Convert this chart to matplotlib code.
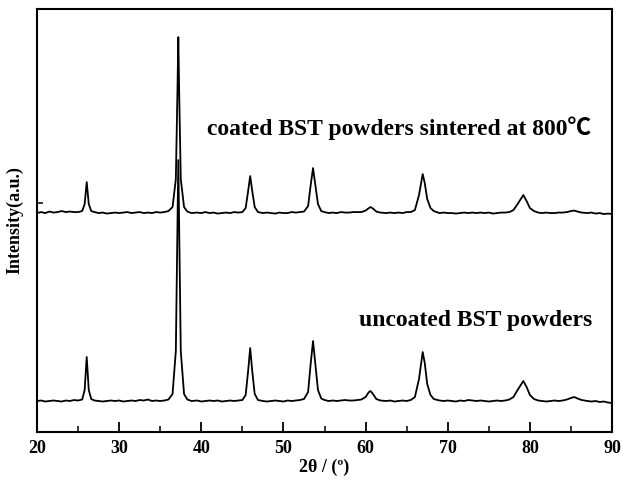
import matplotlib
matplotlib.use("Agg")
import matplotlib.pyplot as plt
from matplotlib.ticker import MultipleLocator

plt.rcParams['font.family'] = ['Liberation Serif', 'DejaVu Serif']
plt.rcParams['font.weight'] = 'bold'

# 2theta (deg) and intensity above baseline (a.u.)
coated_x = [20.0, 20.5, 21.0, 21.5, 22.0, 22.5, 23.0, 23.5, 24.0, 24.5, 25.0, 25.5, 25.8, 26.05, 26.3, 26.6,
            27.0, 27.5, 28.0, 28.5, 29.0, 29.5, 30.0, 30.5, 31.0, 31.5, 32.0, 32.5, 33.0, 33.5, 34.0, 34.5,
            35.0, 35.5, 36.0, 36.5, 36.9, 37.1, 37.2, 37.3, 37.5, 37.9, 38.3, 38.8, 39.5, 40.0, 40.5, 41.0,
            41.5, 42.0, 42.5, 43.0, 43.5, 44.0, 44.5, 45.0, 45.4, 45.7, 45.95, 46.2, 46.5, 46.9, 47.5, 48.0,
            48.5, 49.0, 49.5, 50.0, 50.5, 51.0, 51.5, 52.0, 52.5, 53.0, 53.3, 53.6, 53.9, 54.2, 54.6, 55.0,
            55.5, 56.0, 56.5, 57.0, 57.5, 58.0, 58.5, 59.0, 59.5, 60.0, 60.4, 60.6, 60.9, 61.3, 61.8, 62.5,
            63.0, 63.5, 64.0, 64.5, 65.0, 65.5, 66.0, 66.5, 66.95, 67.2, 67.5, 67.9, 68.3, 69.0, 69.5, 70.0,
            70.5, 71.0, 71.5, 72.0, 72.5, 73.0, 73.5, 74.0, 74.5, 75.0, 75.5, 76.0, 76.5, 77.0, 77.5, 78.0,
            78.5, 79.2, 79.6, 80.0, 80.5, 81.0, 81.5, 82.0, 82.5, 83.0, 83.5, 84.0, 84.5, 85.0, 85.4, 85.8,
            86.3, 87.0, 87.5, 88.0, 88.5, 89.0, 89.5, 90.0]
coated_y = [0, 1, 0, 1.5, 0.5, 1, 2, 1, 1.5, 1, 1, 2, 9, 31, 9, 2,
            1, 0, 0.5, -0.5, 0, 0.5, 0, 0.5, 1, 0, 0.5, 1, 0, 0.5, 0, 1,
            0.5, 1, 2, 6, 34, 124, 176, 124, 34, 6, 1.5, 0, 0.5, 0, 1, 0,
            0.5, -0.5, 0, 0.5, 0, 1, 0.5, 1, 5, 22, 37, 22, 6, 1, 0, 0.5,
            0, -0.5, 0.5, 0, 0, 1, 0.5, 1, 1.5, 7, 27, 45, 27, 9, 2, 1,
            0, 0.5, 0, 1, 0.5, 0.5, 1, 1, 1, 2.5, 5, 6, 4.5, 1.5, 0.5, 0,
            0.5, 0, 0.5, 0, 1, 1, 3, 18, 39, 30, 14, 5, 2, 0, 0.5, 0,
            0, -0.5, 0, 0.5, 0, 0.5, 0, 0.5, 0, 0.5, -0.5, 0, 0.5, 0.5, 1, 3,
            9, 18, 12, 5, 2, 0.5, 0, 0.5, 0, 0, 0.5, 0.5, 1, 2, 2.5, 1.5,
            0.5, 0, 0.5, -0.5, 0, -1, -0.5, -1]

uncoated_x = [20.0, 20.5, 21.0, 21.5, 22.0, 22.5, 23.0, 23.5, 24.0, 24.5, 25.0, 25.5, 25.8, 26.05, 26.3, 26.6,
              27.0, 27.5, 28.0, 28.5, 29.0, 29.5, 30.0, 30.5, 31.0, 31.5, 32.0, 32.5, 33.0, 33.5, 34.0, 34.5,
              35.0, 35.5, 36.0, 36.5, 36.9, 37.1, 37.2, 37.3, 37.5, 37.9, 38.3, 38.8, 39.5, 40.0, 40.5, 41.0,
              41.5, 42.0, 42.5, 43.0, 43.5, 44.0, 44.5, 45.0, 45.4, 45.7, 45.95, 46.2, 46.5, 46.9, 47.5, 48.0,
              48.5, 49.0, 49.5, 50.0, 50.5, 51.0, 51.5, 52.0, 52.5, 53.0, 53.3, 53.6, 53.9, 54.2, 54.6, 55.0,
              55.5, 56.0, 56.5, 57.0, 57.5, 58.0, 58.5, 59.0, 59.5, 60.0, 60.4, 60.6, 60.9, 61.3, 61.8, 62.5,
              63.0, 63.5, 64.0, 64.5, 65.0, 65.5, 66.0, 66.5, 66.95, 67.2, 67.5, 67.9, 68.3, 69.0, 69.5, 70.0,
              70.5, 71.0, 71.5, 72.0, 72.5, 73.0, 73.5, 74.0, 74.5, 75.0, 75.5, 76.0, 76.5, 77.0, 77.5, 78.0,
              78.5, 79.2, 79.6, 80.0, 80.5, 81.0, 81.5, 82.0, 82.5, 83.0, 83.5, 84.0, 84.5, 85.0, 85.4, 85.8,
              86.3, 87.0, 87.5, 88.0, 88.5, 89.0, 89.5, 90.0]
uncoated_y = [0, 0.5, -0.5, 0, 0.5, 0, -0.5, 0.5, 0, 1, 0.5, 1.5, 11, 44, 11, 2,
              0.5, 0, -0.5, 0, 0.5, 0, 0.5, -0.5, 0, 0.5, 0, 1, 0.5, 1.5, 0, 0.5,
              0, 0.5, 1.5, 7, 50, 175, 241, 175, 50, 7, 1.5, 0, 0.5, -0.5, 0, 0.5,
              0, 0.5, -0.5, 0, 0.5, 0, 0.5, 1, 6, 30, 53, 30, 7, 1, 0, -0.5,
              0, 0.5, 0, -0.5, 0.5, 0, 0.5, 1, 2, 9, 36, 60, 36, 11, 2.5, 1,
              0, 0.5, 0, 0.5, 1, 0.5, 0.5, 1, 1.5, 4, 9, 10, 7, 2, 0.5, 0,
              0.5, -0.5, 0, 0.5, 0, 1, 4, 22, 49, 38, 17, 6, 2, 0.5, 0, 0.5,
              0, -0.5, 0.5, 0, 1, 0.5, 0, 0.5, 0, -0.5, 0, 0.5, 0, 0.5, 1.5, 4,
              11, 20, 14, 6, 2, 0.5, 0, -0.5, 0, 0.5, 0, 0.5, 1.5, 3, 4, 2.5,
              1, 0, -0.5, 0, -1, -0.5, -1.5, -2]

coated_label = "coated BST powders sintered at 800\u2103"
uncoated_label = "uncoated BST powders"

fig = plt.figure(figsize=(6.22, 4.8), dpi=100)
ax = fig.add_axes([0.0595, 0.1, 0.9245, 0.881])

ax.plot(uncoated_x, [v + 31 for v in uncoated_y], color='black', linewidth=1.3)
ax.plot(coated_x, [v + 219 for v in coated_y], color='black', linewidth=1.3)

ax.text(64.1, 304, coated_label, fontsize=17, fontweight='bold', ha='center', va='center',
        family=['Liberation Serif', 'Noto Sans CJK SC'])
ax.text(73.35, 112, uncoated_label, fontsize=17, fontweight='bold', ha='center', va='center')

ax.set_xlim(20, 90)
ax.set_ylim(0, 423)
ax.xaxis.set_major_locator(MultipleLocator(10))
ax.xaxis.set_minor_locator(MultipleLocator(5))
ax.set_yticks([229])
ax.set_yticklabels([])
ax.tick_params(axis='x', which='major', direction='in', length=7, width=1.3, labelsize=13, pad=6)
ax.tick_params(axis='x', which='minor', direction='in', length=4, width=1.1)
ax.tick_params(axis='y', direction='in', length=4, width=1.1)
for lab in ax.get_xticklabels():
    lab.set_fontweight('bold')
for s in ax.spines.values():
    s.set_linewidth(1.5)

ax.set_xlabel("2\u03b8 / (\u00ba)", fontsize=13, fontweight='bold', labelpad=1)
ax.set_ylabel("Intensity(a.u.)", fontsize=13, fontweight='bold', labelpad=6)

fig.savefig("out.png", dpi=100)
